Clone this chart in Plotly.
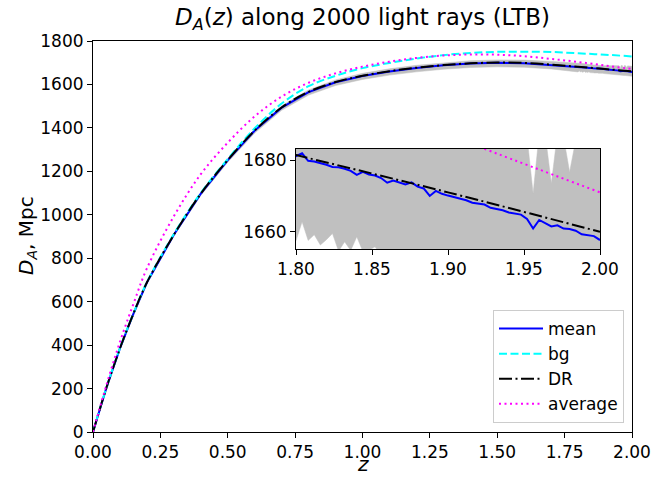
import plotly.graph_objects as go

# ---------------- data ----------------
z_coarse = [0.0, 0.05, 0.1, 0.15, 0.2, 0.3, 0.4, 0.5, 0.6, 0.7, 0.8, 0.9, 1.0,
            1.1, 1.2, 1.3, 1.4, 1.5, 1.6, 1.7, 1.8, 1.9, 2.0]
dr_vals = [0, 205, 385, 545, 688, 908, 1097, 1252, 1388, 1494, 1566, 1611, 1640,
           1661, 1677, 1689, 1697, 1701, 1699, 1691.5, 1681.4, 1671.0, 1660.0]
bg_vals = [0, 205, 386, 546, 689, 911, 1101, 1257, 1398, 1512, 1592, 1640, 1675,
           1699, 1719, 1735, 1745, 1750, 1751, 1749.5, 1743.4, 1737, 1729]
avg_vals = [0, 217, 415, 590, 753, 993, 1187, 1332, 1453, 1544, 1608, 1651, 1682,
            1705, 1722, 1733, 1738, 1737, 1730, 1717.5, 1703.4, 1687, 1671]

# mean over rays: coarse part then fine part (1.80 - 2.00, step 0.004)
z_mean_lo = [0.0, 0.05, 0.1, 0.15, 0.2, 0.3, 0.4, 0.5, 0.6, 0.7, 0.8, 0.9, 1.0,
             1.1, 1.2, 1.3, 1.4, 1.5, 1.6, 1.7]
mean_lo = [0, 205, 385, 545, 688, 908, 1097, 1252, 1388, 1493, 1565, 1610, 1639,
           1660, 1676, 1688, 1696, 1700, 1698, 1690.5]
z_fine = [1.800, 1.804, 1.808, 1.812, 1.816, 1.820, 1.824, 1.828, 1.832, 1.836,
          1.840, 1.844, 1.848, 1.852, 1.856, 1.860, 1.864, 1.868, 1.872, 1.876,
          1.880, 1.884, 1.888, 1.892, 1.896, 1.900, 1.904, 1.908, 1.912, 1.916,
          1.920, 1.924, 1.928, 1.932, 1.936, 1.940, 1.944, 1.948, 1.952, 1.956,
          1.960, 1.964, 1.968, 1.972, 1.976, 1.980, 1.984, 1.988, 1.992, 1.996,
          2.000]
mean_fine = [1681.1, 1681.9, 1679.8, 1679.6, 1679.2, 1678.7, 1678.1, 1678.0, 1677.6, 1677.0,
             1675.9, 1676.7, 1676.0, 1675.7, 1675.0, 1673.7, 1674.3, 1673.7, 1673.2, 1673.8,
             1672.6, 1672.1, 1670.0, 1671.4, 1670.6, 1670.1, 1669.7, 1669.3, 1668.8, 1668.1,
             1667.9, 1667.6, 1666.7, 1666.4, 1666.0, 1665.4, 1665.1, 1664.8, 1663.6, 1660.9,
             1663.3, 1662.4, 1661.5, 1661.8, 1660.9, 1660.8, 1660.3, 1659.3, 1659.0, 1658.8,
             1657.7]

# spread of the 2000 rays (min / max envelope)
z_band_lo = [0.0, 0.1, 0.2, 0.3, 0.4, 0.5, 0.6, 0.7, 0.8, 0.9, 1.0, 1.1, 1.2,
             1.3, 1.4, 1.5, 1.6, 1.7]
band_min_lo = [0, 383, 684, 902, 1089, 1242, 1376, 1481, 1551, 1595, 1623, 1643,
               1658, 1670, 1678, 1681, 1679, 1671.5]
band_max_lo = [0, 387, 691, 912, 1102, 1258, 1395, 1502, 1575, 1621, 1651, 1672,
               1688, 1700, 1709, 1713, 1712, 1706]
band_min_fine = [1657.5, 1662.8, 1657.6, 1659.2, 1656.3, 1657.8, 1659.5, 1654.6, 1657.2, 1654.8,
                 1658.6, 1654.5, 1654.9, 1655.8, 1653.5, 1652.8, 1653.6, 1652.1, 1653.0, 1651.9,
                 1652.5, 1651.2, 1650.8, 1651.5, 1650.1, 1649.8, 1650.2, 1648.9, 1648.4, 1649.0,
                 1647.6, 1647.1, 1646.9, 1646.2, 1645.8, 1645.5, 1644.7, 1644.9, 1643.8, 1642.6,
                 1643.2, 1642.4, 1641.8, 1641.3, 1640.9, 1640.6, 1640.0, 1639.5, 1639.2, 1638.6,
                 1637.9]
band_max_fine = [1699.0, 1700.0, 1698.0, 1697.0, 1698.0, 1696.0, 1695.0, 1696.0, 1694.0, 1693.0,
                 1694.0, 1692.0, 1691.0, 1692.0, 1690.0, 1690.0, 1689.0, 1689.0, 1688.0, 1688.0,
                 1687.0, 1687.0, 1686.5, 1686.5, 1686.0, 1686.0, 1685.5, 1685.5, 1685.5, 1685.0,
                 1685.0, 1685.0, 1685.0, 1684.5, 1684.5, 1684.5, 1684.5, 1684.5, 1686.5, 1670.7,
                 1687.5, 1687.0, 1673.5, 1687.5, 1686.5, 1676.7, 1685.5, 1685.0, 1684.5, 1684.0,
                 1683.5]

x_ticks = [0.0, 0.25, 0.5, 0.75, 1.0, 1.25, 1.5, 1.75, 2.0]
y_ticks = [0, 200, 400, 600, 800, 1000, 1200, 1400, 1600, 1800]
inset_x_ticks = [1.80, 1.85, 1.90, 1.95, 2.00]
inset_y_ticks = [1660, 1680]

z_mean = z_mean_lo + z_fine
mean_vals = mean_lo + mean_fine
z_band = z_band_lo + z_fine
band_min = band_min_lo + band_min_fine
band_max = band_max_lo + band_max_fine

# ---------------- figure ----------------
W, H = 654, 481
L, R, T, B = 93, 22, 41, 49
FONT = "DejaVu Sans"
GRAY = "#c0c0c0"
TICK = 17

fig = go.Figure()

def add_set(xa, ya, legend):
    fig.add_trace(go.Scatter(x=z_band, y=band_min, mode="lines",
                             line=dict(color=GRAY, width=0.5), showlegend=False,
                             hoverinfo="skip", xaxis=xa, yaxis=ya))
    fig.add_trace(go.Scatter(x=z_band, y=band_max, mode="lines", fill="tonexty",
                             fillcolor=GRAY, line=dict(color=GRAY, width=0.5),
                             showlegend=False, hoverinfo="skip", xaxis=xa, yaxis=ya))
    fig.add_trace(go.Scatter(x=z_mean, y=mean_vals, mode="lines", name="mean",
                             line=dict(color="blue", width=2), showlegend=legend,
                             legendgroup="g1", xaxis=xa, yaxis=ya))
    fig.add_trace(go.Scatter(x=z_coarse, y=bg_vals, mode="lines", name="bg",
                             line=dict(color="cyan", width=2, dash="8px,3.5px", shape="spline"),
                             showlegend=legend, legendgroup="g2", xaxis=xa, yaxis=ya))
    fig.add_trace(go.Scatter(x=z_coarse, y=dr_vals, mode="lines", name="DR",
                             line=dict(color="black", width=2, dash="13px,3.5px,2px,3.5px",
                                       shape="spline"),
                             showlegend=legend, legendgroup="g3", xaxis=xa, yaxis=ya))
    fig.add_trace(go.Scatter(x=z_coarse, y=avg_vals, mode="lines", name="average",
                             line=dict(color="magenta", width=2, dash="2px,3.5px", shape="spline"),
                             showlegend=legend, legendgroup="g4", xaxis=xa, yaxis=ya))

add_set("x", "y", True)
add_set("x2", "y2", False)

axis_common = dict(showline=True, mirror=True, linecolor="black", linewidth=1.1,
                   ticks="outside", ticklen=5, tickwidth=1.1, tickcolor="black",
                   showgrid=False, zeroline=False, automargin=False,
                   tickfont=dict(family=FONT, size=TICK, color="black"))

pw, ph = W - L - R, H - T - B
ix0, ix1 = (296 - L) / pw, (600 - L) / pw
iy0, iy1 = (H - B - 249) / ph, (H - B - 149) / ph

fig.update_layout(
    width=W, height=H,
    margin=dict(l=L, r=R, t=T, b=B, autoexpand=False),
    paper_bgcolor="white", plot_bgcolor="white",
    font=dict(family=FONT, color="black"),
    xaxis=dict(range=[0, 2], tickvals=x_ticks, tickformat=".2f", domain=[0, 1],
               **axis_common),
    yaxis=dict(range=[0, 1800], tickvals=y_ticks, domain=[0, 1], **axis_common),
    xaxis2=dict(range=[1.8, 2.0], tickvals=inset_x_ticks, tickformat=".2f",
                domain=[ix0, ix1], anchor="y2", **axis_common),
    yaxis2=dict(range=[1655.2, 1683.1], tickvals=inset_y_ticks, domain=[iy0, iy1],
                anchor="x2", **axis_common),
    showlegend=True,
    legend=dict(x=(624 - L) / pw, y=(H - B - 423) / ph, xanchor="right", yanchor="bottom",
                bgcolor="rgba(255,255,255,0.8)", bordercolor="#cccccc", borderwidth=1,
                font=dict(family=FONT, size=TICK), tracegroupgap=0,
                itemwidth=44),
    title=dict(text="<i>D</i><sub><i>A</i></sub>(<i>z</i>) along 2000 light rays (LTB)",
               x=(L + pw / 2) / W, xanchor="center", y=1 - 17 / H, yanchor="middle",
               font=dict(family=FONT, size=23)),
    annotations=[
        dict(text="<i>z</i>", xref="paper", yref="paper", x=0.5, y=(H - B - 464) / ph,
             showarrow=False, xanchor="center", yanchor="middle",
             font=dict(family=FONT, size=20)),
        dict(text="<i>D</i><sub><i>A</i></sub>, Mpc", xref="paper", yref="paper",
             x=(27 - L) / pw, y=(H - B - 236) / ph, textangle=-90,
             showarrow=False, xanchor="center", yanchor="middle",
             font=dict(family=FONT, size=20)),
    ],
)

fig.write_html("out.html", config={"displayModeBar": False},
               post_script="document.body.style.margin='0';document.body.style.overflow='hidden';")
